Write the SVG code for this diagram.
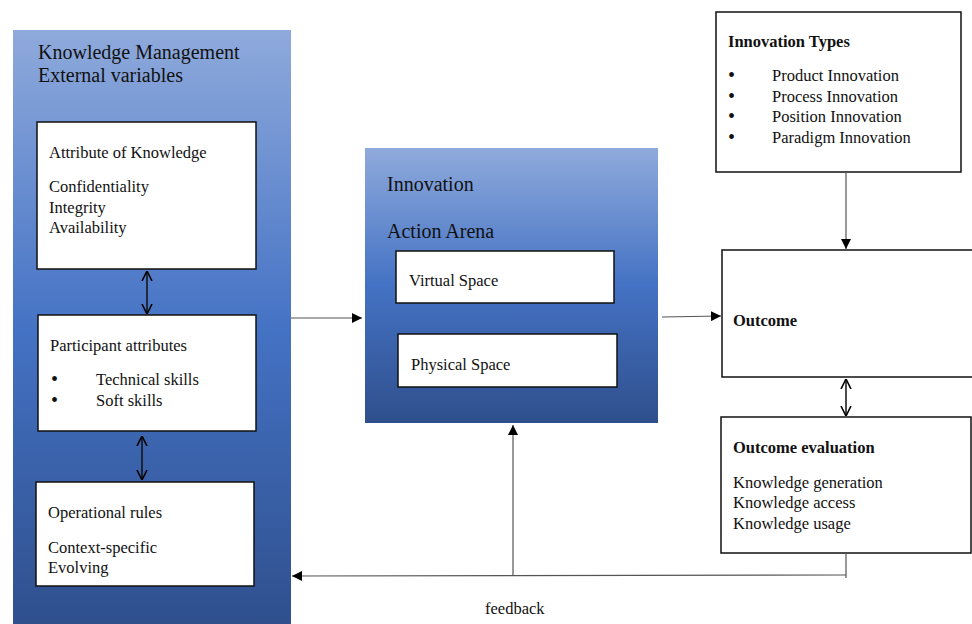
<svg xmlns="http://www.w3.org/2000/svg" width="972" height="624" viewBox="0 0 972 624">
<defs>
<linearGradient id="g1" x1="0" y1="0" x2="0" y2="1">
<stop offset="0" stop-color="#8FAADC"/>
<stop offset="0.5" stop-color="#4472C4"/>
<stop offset="1" stop-color="#2F4F8C"/>
</linearGradient>
<marker id="ah" viewBox="0 0 10 10" refX="10" refY="5" markerWidth="10" markerHeight="10" markerUnits="userSpaceOnUse" orient="auto-start-reverse">
<path d="M0,0 L10,5 L0,10 z" fill="#000"/>
</marker>
<marker id="oh" viewBox="0 0 10 10" refX="10" refY="5" markerWidth="10" markerHeight="12" markerUnits="userSpaceOnUse" orient="auto-start-reverse">
<path d="M0,0 L10,5 L0,10" fill="none" stroke="#000" stroke-width="1.6"/>
</marker>
</defs>
<style>
text{font-family:"Liberation Serif","Times New Roman",serif;fill:#111;font-size:16.5px}
.t{font-size:20px}
.b{font-weight:bold}
.bl{font-size:20px}
.box{fill:#fff;stroke:#111;stroke-width:1.5}
.c{stroke:#555;stroke-width:1.2;fill:none}
.d{stroke:#111;stroke-width:1.5;fill:none}
</style>
<rect width="972" height="624" fill="#fff"/>
<g id="km-panel">
<rect x="13" y="30" width="278" height="600" fill="url(#g1)"/>
<text class="t" x="38" y="59">Knowledge Management</text>
<text class="t" x="38" y="82">External variables</text>
</g>
<g id="attr-knowledge">
<rect class="box" x="37" y="122" width="219" height="147"/>
<text x="49" y="158">Attribute of Knowledge</text>
<text x="49" y="192">Confidentiality</text>
<text x="49" y="213">Integrity</text>
<text x="49" y="233">Availability</text>
</g>
<g id="participant">
<rect class="box" x="38" y="315" width="218" height="116"/>
<text x="50" y="351">Participant attributes</text>
<text class="bl" x="51" y="386">•</text>
<text x="96" y="385">Technical  skills</text>
<text class="bl" x="51" y="407">•</text>
<text x="96" y="406">Soft skills</text>
</g>
<g id="operational">
<rect class="box" x="36" y="482" width="218" height="104"/>
<text x="48" y="518">Operational rules</text>
<text x="48" y="553">Context-specific</text>
<text x="48" y="573">Evolving</text>
</g>
<g id="arena">
<rect x="365" y="148" width="293" height="275" fill="url(#g1)"/>
<text class="t" x="387" y="191">Innovation</text>
<text class="t" x="387" y="238">Action Arena</text>
</g>
<g id="virtual">
<rect class="box" x="396" y="251" width="218" height="52"/>
<text x="409" y="286">Virtual Space</text>
</g>
<g id="physical">
<rect class="box" x="398" y="334" width="219" height="53"/>
<text x="411" y="370">Physical  Space</text>
</g>
<g id="types">
<rect class="box" x="716" y="12" width="245" height="160"/>
<text class="b" x="728" y="47">Innovation Types</text>
<text class="bl" x="728" y="82">•</text><text x="772" y="81">Product Innovation</text>
<text class="bl" x="728" y="103">•</text><text x="772" y="102">Process Innovation</text>
<text class="bl" x="728" y="123">•</text><text x="772" y="122">Position Innovation</text>
<text class="bl" x="728" y="144">•</text><text x="772" y="143">Paradigm Innovation</text>
</g>
<g id="outcome">
<rect class="box" x="722" y="250" width="260" height="127"/>
<text class="b" x="733" y="326">Outcome</text>
</g>
<g id="evaluation">
<rect class="box" x="721" y="417" width="250" height="136"/>
<text class="b" x="733" y="453">Outcome evaluation</text>
<text x="733" y="488">Knowledge generation</text>
<text x="733" y="508">Knowledge access</text>
<text x="733" y="529">Knowledge usage</text>
</g>
<g id="connectors">
<line class="d" x1="147" y1="271" x2="147" y2="314" marker-start="url(#oh)" marker-end="url(#oh)"/>
<line class="d" x1="142" y1="436" x2="142" y2="480" marker-start="url(#oh)" marker-end="url(#oh)"/>
<line class="d" x1="846" y1="379" x2="846" y2="416" marker-start="url(#oh)" marker-end="url(#oh)"/>
<line class="c" x1="291" y1="318" x2="362" y2="318" marker-end="url(#ah)"/>
<line class="c" x1="662" y1="317" x2="721" y2="316" marker-end="url(#ah)"/>
<line class="c" x1="846" y1="172" x2="846" y2="249" marker-end="url(#ah)"/>
<polyline class="c" points="846,553 846,578"/>
<line class="c" x1="846" y1="575" x2="292" y2="576" marker-end="url(#ah)"/>
<line class="c" x1="513" y1="575" x2="513" y2="425" marker-end="url(#ah)"/>
</g>
<g id="feedback-label">
<text x="485" y="614">feedback</text>
</g>
</svg>
